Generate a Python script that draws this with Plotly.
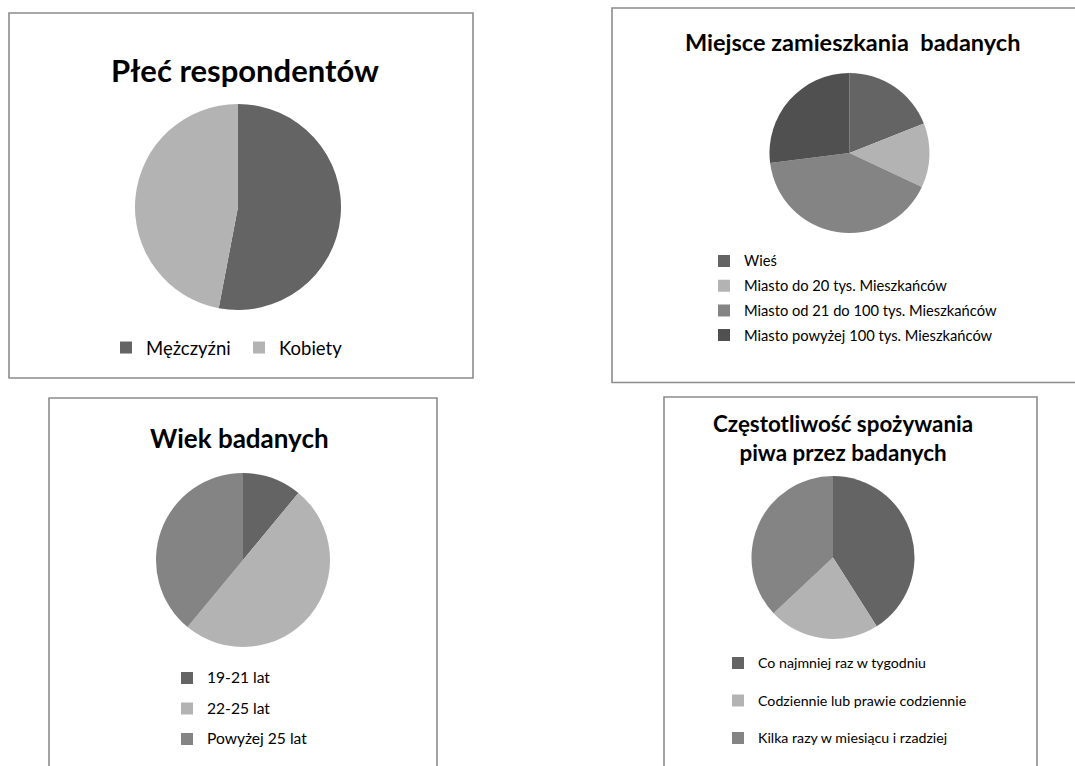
import plotly.graph_objects as go

W, H = 1075, 766

# ---- data ----
plec_labels = ["Mężczyźni", "Kobiety"]
plec_values = [53, 47]

miejsce_labels = ["Wieś", "Miasto do 20 tys. Mieszkańców",
                  "Miasto od 21 do 100 tys. Mieszkańców",
                  "Miasto powyżej 100 tys. Mieszkańców"]
miejsce_values = [19, 13, 41, 27]

wiek_labels = ["19-21 lat", "22-25 lat", "Powyżej 25 lat"]
wiek_values = [11, 50, 39]

piwo_labels = ["Co najmniej raz w tygodniu", "Codziennie lub prawie codziennie",
               "Kilka razy w miesiącu i rzadziej"]
piwo_values = [41, 22, 37]

titles = ["Płeć respondentów", "Miejsce zamieszkania  badanych",
          "Wiek badanych", "Częstotliwość spożywania<br>piwa przez badanych"]

# ---- style ----
FONT = "Lato, 'Open Sans', sans-serif"
C_DARK, C_LIGHT, C_MID, C_DARKER = "#646464", "#b3b3b3", "#848484", "#505050"
BORDER = "#8c8c8c"


def px(x):
    return x / W


def py(y):
    return 1 - y / H


def dom(cx, cy, r):
    return dict(x=[px(cx - r), px(cx + r)], y=[py(cy + r), py(cy - r)])


def span(labels, size, shift=0):
    st = f"font-size:{size}px"
    if shift:
        st += f";baseline-shift:{shift}px"
    return [f'<span style="{st}">{l}</span>' for l in labels]


fig = go.Figure()

common = dict(sort=False, direction="clockwise", textinfo="none",
              hoverinfo="label+percent", marker_line_width=0)

fig.add_trace(go.Pie(labels=plec_labels, values=plec_values,
                     marker_colors=[C_DARK, C_LIGHT],
                     domain=dom(238, 207, 103), legend="legend", **common))
fig.add_trace(go.Pie(labels=span(miejsce_labels, 14.7, 1), values=miejsce_values,
                     marker_colors=[C_DARK, C_LIGHT, C_MID, C_DARKER],
                     domain=dom(849.5, 153, 80), legend="legend2", **common))
fig.add_trace(go.Pie(labels=span(wiek_labels, 15.6, 3), values=wiek_values,
                     marker_colors=[C_DARK, C_LIGHT, C_MID],
                     domain=dom(243, 560, 87), legend="legend3", **common))
fig.add_trace(go.Pie(labels=span(piwo_labels, 14.2, 5), values=piwo_values,
                     marker_colors=[C_DARK, C_LIGHT, C_MID],
                     domain=dom(833, 557.5, 81.5), legend="legend4", **common))

# panel borders
panels = [(9, 13, 473, 378), (612, 8, 1080, 382.5),
          (49, 398, 437, 780), (664, 397, 1037, 780)]
shapes = [dict(type="rect", xref="paper", yref="paper",
               x0=px(a), x1=px(c), y0=py(d), y1=py(b),
               line=dict(color=BORDER, width=1.6), fillcolor="rgba(0,0,0,0)",
               layer="below")
          for a, b, c, d in panels]

# titles
title_pos = [(245, 70, 31), (852, 42, 23.5), (239, 438, 26), (843, 438, 22.4)]
annotations = [dict(text=f"<b>{t}</b>", x=px(x), y=py(y), xref="paper", yref="paper",
                    xanchor="center", yanchor="middle", showarrow=False,
                    font=dict(family=FONT, size=s, color="#000000"))
               for t, (x, y, s) in zip(titles, title_pos)]

leg_common = dict(xanchor="left", yanchor="top", bgcolor="rgba(0,0,0,0)",
                  borderwidth=0, traceorder="normal")

fig.update_layout(
    width=W, height=H, margin=dict(l=0, r=0, t=0, b=0),
    paper_bgcolor="white", plot_bgcolor="white",
    font=dict(family=FONT, color="#000000"),
    shapes=shapes, annotations=annotations,
    legend=dict(orientation="h", x=px(106), y=py(329), entrywidth=88,
                font=dict(family=FONT, size=18.5, color="#000000"), **leg_common),
    legend2=dict(orientation="v", x=px(704), y=py(243.6),
                 font=dict(family=FONT, size=16.7, color="#000000"), **leg_common),
    legend3=dict(orientation="v", x=px(167), y=py(657.75),
                 font=dict(family=FONT, size=21.15, color="#000000"), **leg_common),
    legend4=dict(orientation="v", x=px(718), y=py(639.25),
                 font=dict(family=FONT, size=26.5, color="#000000"), **leg_common),
)

fig.write_html("out.html")
